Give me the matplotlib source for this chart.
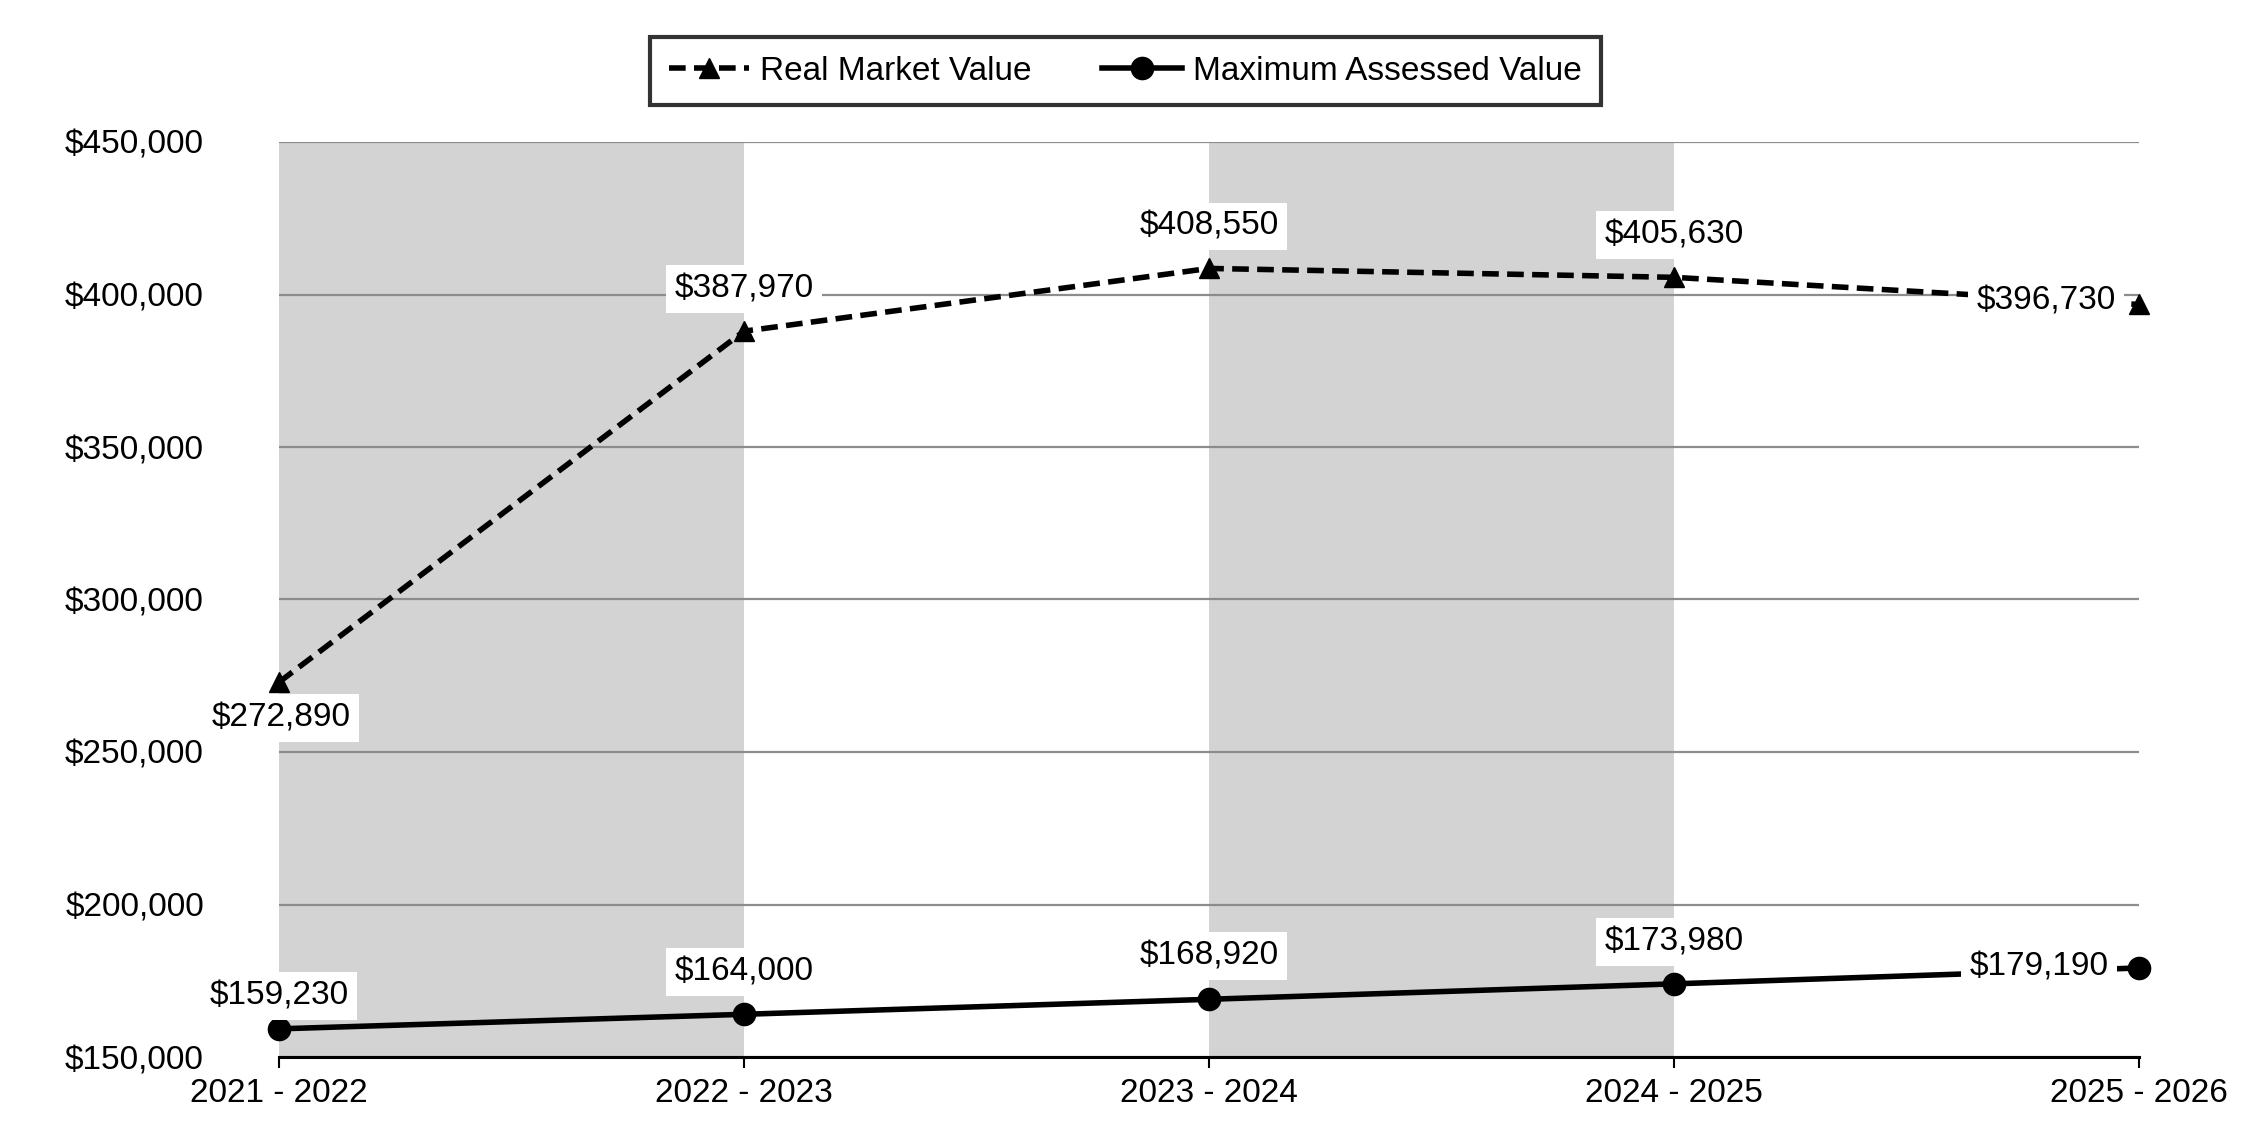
import matplotlib.pyplot as plt
from matplotlib.ticker import FuncFormatter

# données
YEARS = ["2021 - 2022", "2022 - 2023", "2023 - 2024", "2024 - 2025", "2025 - 2026"]
REAL_MARKET = [272890, 387970, 408550, 405630, 396730]
MAX_ASSESSED = [159230, 164000, 168920, 173980, 179190]

# décalages des étiquettes (pixels)
RMV_OFFSETS = [(2, -36), (0, 42), (0, 42), (0, 42), (-93, 3)]
MAV_OFFSETS = [(0, 33), (0, 42), (0, 43), (0, 42), (-100, 1)]

plt.rcParams["font.family"] = ["Liberation Sans", "DejaVu Sans"]

fig = plt.figure(figsize=(22.5, 11.4), dpi=100)
ax = fig.add_axes([279 / 2250, 1 - 1057 / 1140, (2139 - 279) / 2250, (1057 - 142) / 1140])

x = list(range(len(YEARS)))

# bandes grises une colonne sur deux
for i in range(0, len(YEARS) - 1, 2):
    ax.axvspan(i, i + 1, color="#d3d3d3", zorder=0, lw=0)

ax.set_xlim(0, len(YEARS) - 1)
ax.set_ylim(150000, 450000)
ax.set_yticks(range(150000, 450001, 50000))
ax.yaxis.set_major_formatter(FuncFormatter(lambda v, p: f"${v:,.0f}"))
ax.set_xticks(x)
ax.set_xticklabels(YEARS)
ax.grid(axis="y", color="#8c8c8c", lw=1.6, zorder=1)
ax.set_axisbelow(True)

for side in ["top", "right", "left"]:
    ax.spines[side].set_visible(False)
ax.spines["bottom"].set_linewidth(2.2)
ax.spines["bottom"].set_zorder(5)

ax.tick_params(axis="y", length=0, pad=54, labelsize=24)
ax.tick_params(axis="x", length=8, width=1.5, pad=7, labelsize=24, direction="out")

ax.plot(x, REAL_MARKET, color="black", lw=4, ls=(0, (3, 1.5)), marker="^", ms=14,
        label="Real Market Value", zorder=4, clip_on=False)
ax.plot(x, MAX_ASSESSED, color="black", lw=4, marker="o", ms=16,
        label="Maximum Assessed Value", zorder=4, clip_on=False)

box = dict(boxstyle="square,pad=0.25", fc="white", ec="none")
for xi, v, off in zip(x, REAL_MARKET, RMV_OFFSETS):
    ax.annotate(f"${v:,}", (xi, v), xytext=off, textcoords="offset pixels",
                ha="center", va="center", fontsize=24, bbox=box, zorder=6)
for xi, v, off in zip(x, MAX_ASSESSED, MAV_OFFSETS):
    ax.annotate(f"${v:,}", (xi, v), xytext=off, textcoords="offset pixels",
                ha="center", va="center", fontsize=24, bbox=box, zorder=6)

leg = fig.legend(loc="center", bbox_to_anchor=(0.5002, 0.9377), ncol=2, fontsize=24,
                 frameon=True, fancybox=False, edgecolor="black", handlelength=2.4,
                 handletextpad=0.35, columnspacing=2.1, borderpad=0.55, borderaxespad=0)
leg.get_frame().set_linewidth(3)

fig.savefig("out.png", dpi=100)
